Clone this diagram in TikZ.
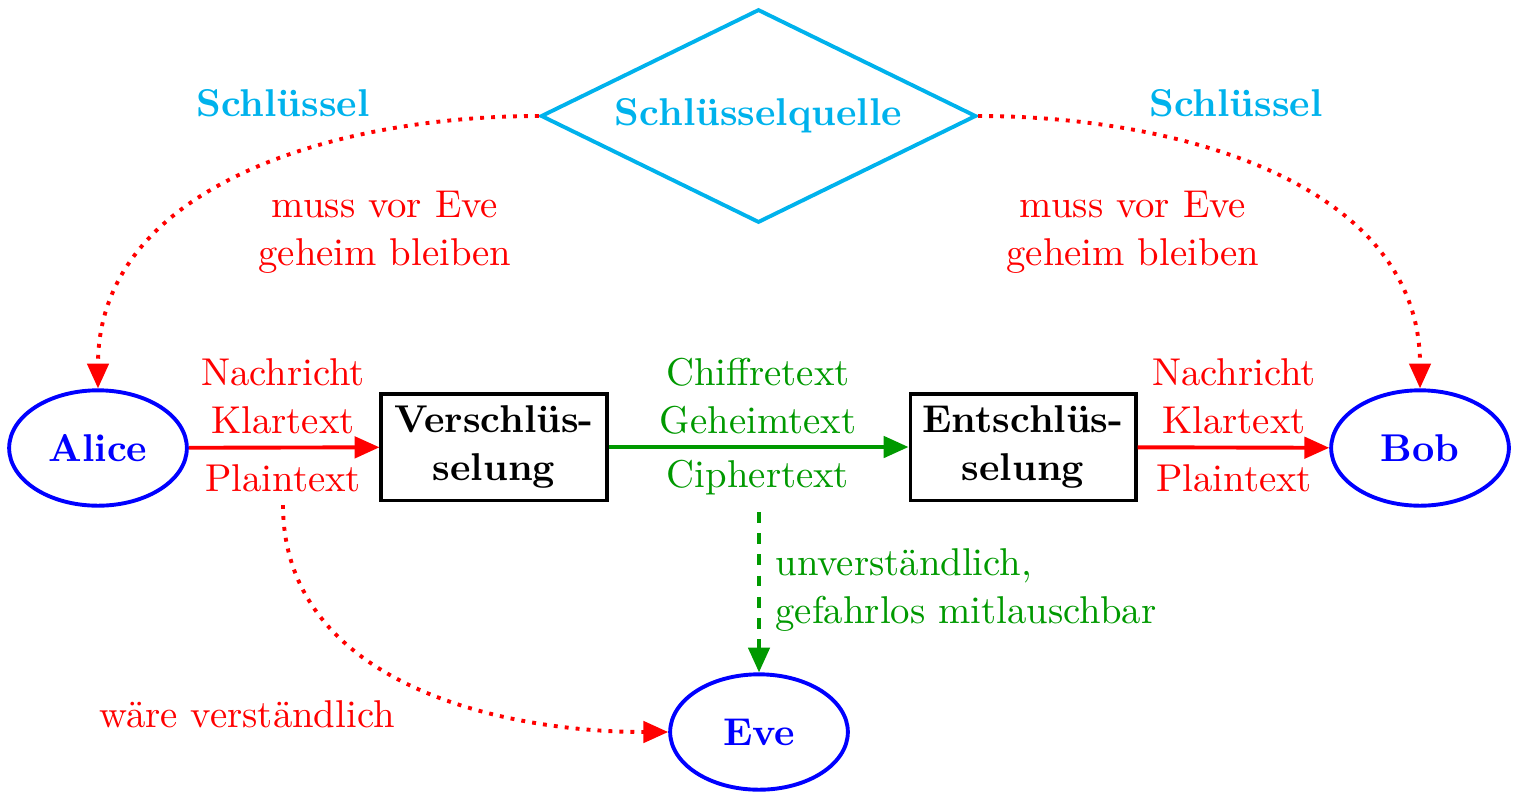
\documentclass[tikz,border=0pt]{standalone}
\usetikzlibrary{shapes.geometric,arrows.meta}
\definecolor{keycyan}{RGB}{0,178,236}
\definecolor{cgreen}{RGB}{0,153,0}
\newcommand{\fsz}{\fontsize{10.95}{13.6}\selectfont}
\begin{document}
\begin{tikzpicture}[x=0.2825pt,y=0.2825pt,
  txt/.style={font=\fsz, align=center},
  btxt/.style={font=\fsz\bfseries, align=center},
  person/.style={ellipse, draw=blue, line width=1.1pt, text=blue, font=\fsz\bfseries,
     minimum width=50.2pt, minimum height=32.6pt, inner sep=0pt},
  stepbox/.style={rectangle, draw=black, line width=1.1pt, font=\fsz\bfseries, align=center,
     minimum width=63.6pt, minimum height=30.2pt, inner sep=0pt},
  arr/.style={line width=1.1pt, -{Triangle[length=7pt,width=6pt]}},
]
\useasboundingbox (0,0) rectangle (1517,806);

% nodes
\node[diamond, aspect=2, draw=keycyan, line width=1.1pt, text=keycyan, font=\fsz\bfseries,
      minimum width=123pt, minimum height=60.3pt, inner sep=0pt] (quelle) at (758.5,690) {Schlüsselquelle};
\node[person] (alice) at (98,358) {Alice};
\node[person] (bob) at (1420,358) {Bob};
\node[person] (eve) at (759,74) {Eve};
\node[stepbox] (ver) at (494,359) {Verschlüs-\\selung};
\node[stepbox] (ent) at (1023,359) {Entschlüs-\\selung};

% labels
\node[txt, text=red] (l1a) at (283,410) {Nachricht\\Klartext};
\node[txt, text=red] (l1b) at (283,328) {Plaintext};
\node[txt, text=cgreen] (l2a) at (758,410) {Chiffretext\\Geheimtext};
\node[txt, text=cgreen] (l2b) at (758,328) {Ciphertext};
\node[txt, text=red] (l3a) at (1234,410) {Nachricht\\Klartext};
\node[txt, text=red] (l3b) at (1234,328) {Plaintext};
\node[txt, text=cgreen, align=left, anchor=west] (l4) at (763,216) {unverständlich,\\gefahrlos mitlauschbar};
\node[txt, text=red] (l5) at (247,92) {wäre verständlich};
\node[btxt, text=keycyan] (k1) at (283,703) {Schlüssel};
\node[btxt, text=keycyan] (k2) at (1236,703) {Schlüssel};
\node[txt, text=red] (m1) at (385,574) {muss vor Eve\\geheim bleiben};
\node[txt, text=red] (m2) at (1133,574) {muss vor Eve\\geheim bleiben};

\coordinate (ct) at (759,294);
\coordinate (pt) at (283,301);

% connectors
\draw[arr, red] (alice) -- (ver);
\draw[arr, cgreen] (ver) -- (ent);
\draw[arr, red] (ent) -- (bob);
\draw[arr, cgreen, dashed] (ct) -- (eve.north);
\draw[arr, red, dotted] (pt) to[out=-90, in=180] (eve.west);
\draw[arr, red, dotted] (quelle.west) to[out=180, in=90] (alice.north);
\draw[arr, red, dotted] (quelle.east) to[out=0, in=90] (bob.north);
\end{tikzpicture}
\end{document}
